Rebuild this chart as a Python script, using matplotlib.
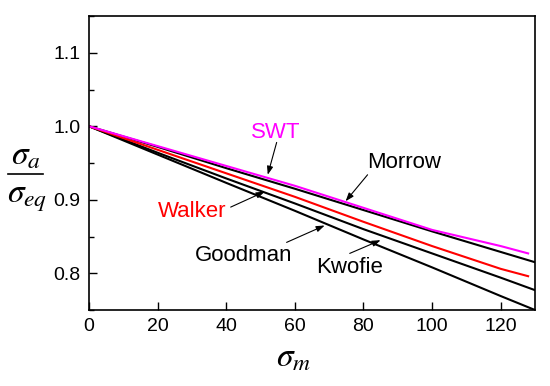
import matplotlib
matplotlib.use("Agg")
import matplotlib.pyplot as plt
from matplotlib.ticker import MultipleLocator
from matplotlib.lines import Line2D

plt.rcParams['font.family'] = ['Liberation Sans', 'DejaVu Sans']
plt.rcParams['mathtext.fontset'] = 'stix'

x_full = [0, 20, 40, 60, 80, 100, 120, 130]
x_short = [0, 20, 40, 60, 80, 100, 120, 128]
swt = [1.0, 0.973, 0.946, 0.919, 0.889, 0.859, 0.837, 0.827]
morrow = [1.0, 0.972, 0.943, 0.915, 0.886, 0.857, 0.829, 0.815]
walker = [1.0, 0.968, 0.936, 0.904, 0.870, 0.837, 0.806, 0.796]
kwofie = [1.0, 0.964, 0.929, 0.895, 0.860, 0.827, 0.794, 0.777]
goodman = [1.0, 0.9615, 0.923, 0.885, 0.846, 0.808, 0.769, 0.750]

xticks = [0, 20, 40, 60, 80, 100, 120]
yticks = [0.8, 0.9, 1.0, 1.1]

fig = plt.figure(figsize=(5.5, 3.86), dpi=100)
ax = fig.add_axes([0.1618, 0.1969, 0.8109, 0.7616])

ax.plot(x_full, goodman, color='black', lw=1.5)
ax.plot(x_full, kwofie, color='black', lw=1.5)
ax.plot(x_full, morrow, color='black', lw=1.5)
ax.plot(x_short, walker, color='red', lw=1.5)
ax.plot(x_short, swt, color='magenta', lw=1.5)

ax.set_xlim(0, 130)
ax.set_ylim(0.75, 1.15)
ax.set_xticks(xticks)
ax.set_yticks(yticks)
ax.set_yticklabels([f"{v:.1f}" for v in yticks])
ax.yaxis.set_minor_locator(MultipleLocator(0.05))
ax.tick_params(axis='both', which='major', direction='in', length=6, width=1,
               labelsize=14, pad=6)
ax.tick_params(axis='both', which='minor', direction='in', length=3.5, width=1)
ax.tick_params(top=False, right=False)
for s in ax.spines.values():
    s.set_linewidth(1.2)

arrow = dict(arrowstyle='-|>,head_length=0.5,head_width=0.18', color='black', lw=0.8,
             shrinkA=0, shrinkB=0)

def note(txt, xy, xytext, tail, color):
    ax.text(xytext[0], xytext[1], txt, color=color, fontsize=16, ha='center', va='center')
    ax.annotate('', xy=xy, xytext=tail, arrowprops=arrow)

note('SWT', (52.1, 0.934), (54.4, 0.992), (54.7, 0.978), 'magenta')
note('Morrow', (74.8, 0.898), (92.0, 0.951), (81.2, 0.934), 'black')
note('Walker', (51.2, 0.911), (30.0, 0.884), (41.3, 0.890), 'red')
note('Goodman', (68.7, 0.865), (45.1, 0.824), (57.6, 0.842), 'black')
note('Kwofie', (85.0, 0.845), (76.0, 0.808), (76.0, 0.827), 'black')

W, H = 550.0, 386.0
fig.text(26 / W, 1 - 156 / H, r'$\sigma_a$', fontsize=24, ha='center', va='center')
fig.add_artist(Line2D([8 / W, 43 / W], [1 - 174 / H, 1 - 174 / H], color='black', lw=1.2,
                      transform=fig.transFigure))
fig.text(27 / W, 1 - 198 / H, r'$\sigma_{eq}$', fontsize=24, ha='center', va='center')
fig.text(0.533, 0.073, r'$\sigma_m$', fontsize=24, ha='center', va='center')

fig.savefig('out.png', dpi=100)
